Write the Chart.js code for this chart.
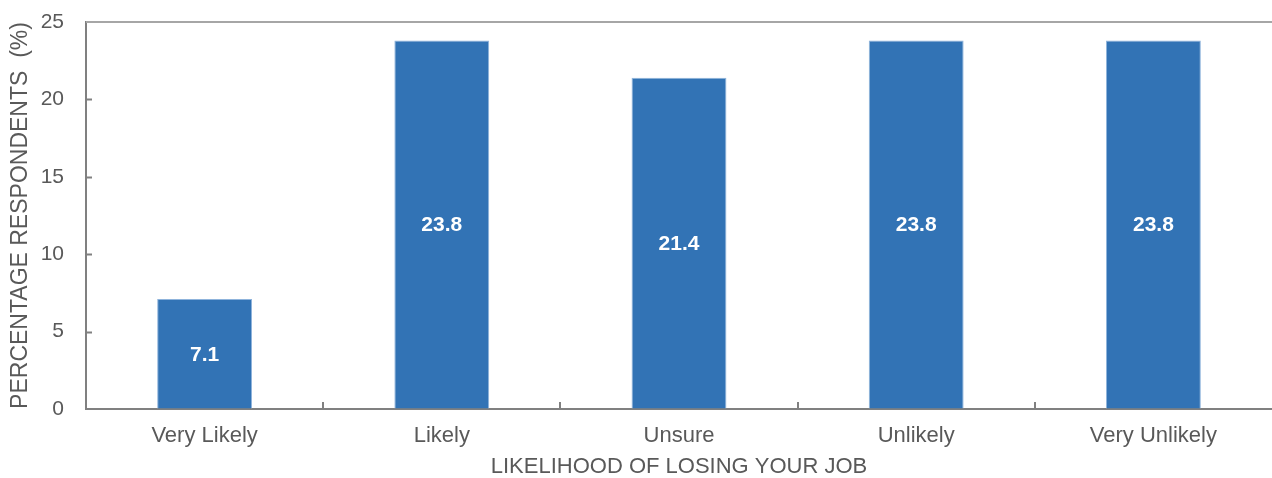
<!DOCTYPE html>
<html>
<head>
<meta charset="utf-8">
<script src="https://cdn.jsdelivr.net/npm/chart.js@4/dist/chart.umd.min.js"></script>
<style>
  html, body { margin: 0; padding: 0; background: #fff; }
  #wrap { width: 1272px; height: 478px; }
</style>
</head>
<body>
<div id="wrap"><canvas id="myChart"></canvas></div>
<script>
const categories = ['Very Likely', 'Likely', 'Unsure', 'Unlikely', 'Very Unlikely'];
const percentages = [7.1, 23.8, 21.4, 23.8, 23.8];
const yTicks = [0, 5, 10, 15, 20, 25];

const textColor = '#595959';
const axisColor = '#808080';
const fontFamily = '"Liberation Sans", Arial, sans-serif';

// white value labels in the middle of each bar
const barLabels = {
    id: 'barLabels',
    afterDatasetsDraw(chart) {
        const ctx = chart.ctx;
        const meta = chart.getDatasetMeta(0);
        ctx.save();
        ctx.fillStyle = '#ffffff';
        ctx.font = 'bold 21px ' + fontFamily;
        ctx.textAlign = 'center';
        ctx.textBaseline = 'middle';
        meta.data.forEach((bar, i) => {
            const mid = (bar.y + bar.base) / 2;
            ctx.fillText(percentages[i].toFixed(1), bar.x, mid + 1);
        });
        ctx.restore();
    }
};

// top border line + small inward tick marks on both axes
const frame = {
    id: 'frame',
    afterDraw(chart) {
        const a = chart.chartArea;
        const ctx = chart.ctx;
        const ys = chart.scales.y;
        ctx.save();
        ctx.strokeStyle = '#a6a6a6';
        ctx.lineWidth = 2;
        ctx.beginPath();
        ctx.moveTo(a.left, a.top);
        ctx.lineTo(a.right, a.top);
        ctx.stroke();

        ctx.strokeStyle = axisColor;
        ctx.lineWidth = 2;
        ctx.beginPath();
        const step = (a.right - a.left) / categories.length;
        for (let i = 1; i < categories.length; i++) {
            const x = Math.round(a.left + i * step);
            ctx.moveTo(x, a.bottom);
            ctx.lineTo(x, a.bottom - 7);
        }
        yTicks.slice(1, -1).forEach(v => {
            const y = Math.round(ys.getPixelForValue(v)) + 0.5;
            ctx.moveTo(a.left, y);
            ctx.lineTo(a.left + 6, y);
        });
        ctx.stroke();
        ctx.restore();
    }
};

new Chart(document.getElementById('myChart'), {
    type: 'bar',
    data: {
        labels: categories,
        datasets: [{
            data: percentages,
            backgroundColor: '#3273b5',
            borderColor: '#8fb4dc',
            borderWidth: 1,
            barPercentage: 0.4,
            categoryPercentage: 1.0
        }]
    },
    options: {
        responsive: true,
        maintainAspectRatio: false,
        animation: false,
        layout: { padding: { top: 22, right: 0, left: 0, bottom: 0 } },
        plugins: {
            legend: { display: false },
            tooltip: { enabled: false }
        },
        scales: {
            x: {
                afterFit(axis) { axis.height = 69; },
                grid: { display: true, drawOnChartArea: false, drawTicks: false },
                border: { color: axisColor, width: 2 },
                ticks: {
                    color: textColor,
                    font: { family: fontFamily, size: 22 },
                    padding: 14
                },
                title: {
                    display: true,
                    text: 'LIKELIHOOD OF LOSING YOUR JOB',
                    color: textColor,
                    font: { family: fontFamily, size: 22, lineHeight: 1 },
                    padding: { top: 0, bottom: 0 }
                }
            },
            y: {
                min: 0,
                max: 25,
                afterFit(axis) {
                    axis.width = 86;
                    axis.paddingTop = 0;
                    axis.paddingBottom = 0;
                },
                afterBuildTicks(axis) {
                    axis.ticks = yTicks.map(v => ({ value: v }));
                },
                grid: { display: true, drawOnChartArea: false, drawTicks: false },
                border: { color: axisColor, width: 2 },
                ticks: {
                    color: textColor,
                    font: { family: fontFamily, size: 21 },
                    padding: 22
                },
                title: {
                    display: true,
                    text: 'PERCENTAGE RESPONDENTS  (%)',
                    color: textColor,
                    font: { family: fontFamily, size: 23 },
                    padding: { top: 7, bottom: 0 }
                }
            }
        }
    },
    plugins: [barLabels, frame]
});
</script>
</body>
</html>
